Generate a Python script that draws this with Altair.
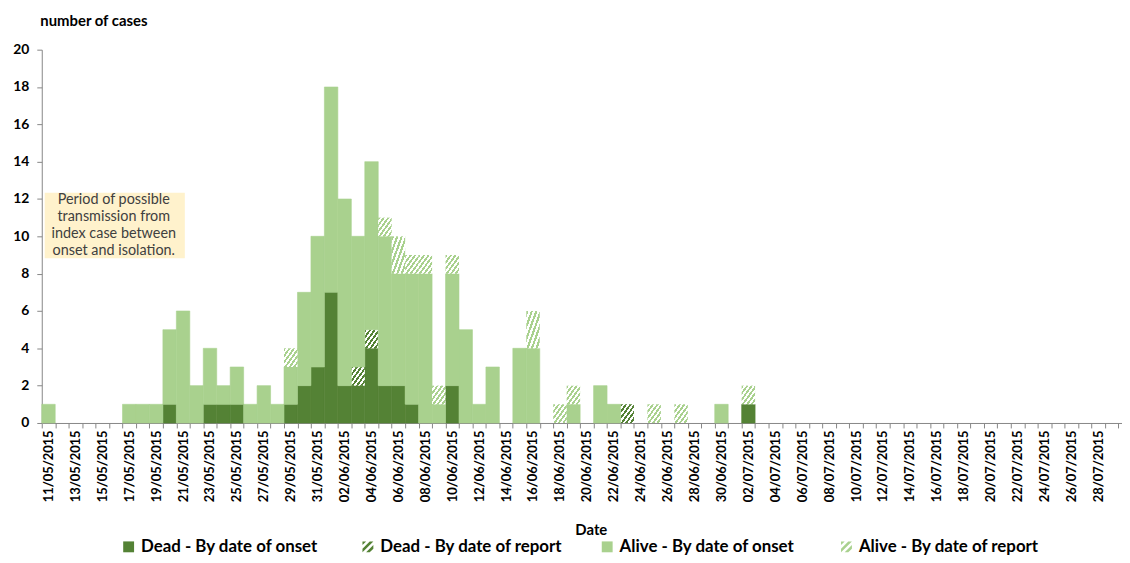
import altair as alt
import pandas as pd

# ---------------- data (day index 0 = 11/05/2015) ----------------
start_date = "2015-05-11"

dead_onset = [0,0,0,0,0,0,0,0,0,1, 0,0,1,1,1,0,0,0,1,2, 3,7,2,2,4,2,2,1,0,0,
              2,0,0,0,0,0,0,0,0,0, 0,0,0,0,0,0,0,0,0,0, 0,0,1]
dead_report = [0,0,0,0,0,0,0,0,0,0, 0,0,0,0,0,0,0,0,0,0, 0,0,0,1,1,0,0,0,0,0,
               0,0,0,0,0,0,0,0,0,0, 0,0,0,1,0,0,0,0,0,0, 0,0,0]
alive_onset = [1,0,0,0,0,0,1,1,1,4, 6,2,3,1,2,1,2,1,2,5, 7,11,10,7,9,8,6,7,8,1,
               6,5,1,3,0,4,4,0,0,1, 0,2,1,0,0,0,0,0,0,0, 1,0,0]
alive_report = [0,0,0,0,0,0,0,0,0,0, 0,0,0,0,0,0,0,0,1,0, 0,0,0,0,0,1,2,1,1,1,
                1,0,0,0,0,0,2,0,1,1, 0,0,0,0,0,1,0,1,0,0, 0,0,1]

categories = ["Dead - By date of onset", "Dead - By date of report",
              "Alive - By date of onset", "Alive - By date of report"]
series = [dead_onset, dead_report, alive_onset, alive_report]

annotation_lines = ["Period of possible", "transmission from",
                    "index case between", "onset and isolation."]

rows = []
for order, (cat, vals) in enumerate(zip(categories, series)):
    for day, v in enumerate(vals):
        rows.append({"day": day, "category": cat, "value": v, "order": order})
df = pd.DataFrame(rows)

# ---------------- style / layout ----------------
DARK = "#548235"
LIGHT = "#A9D18E"
FONT = "Lato"
PX_DAY = 13.556
W = 1088
H = 376
X_END = W / PX_DAY  # visible part of the date axis (ends just after 29/07)


def stripes(color, n=6):
    stops = []
    for i in range(n):
        a = i / n
        b = (i + 0.5) / n
        c = (i + 1) / n
        stops += [alt.GradientStop(offset=a, color=color),
                  alt.GradientStop(offset=b, color=color),
                  alt.GradientStop(offset=b, color="white"),
                  alt.GradientStop(offset=c, color="white")]
    return alt.LinearGradient(gradient="linear", stops=stops, x1=0, y1=0, x2=1, y2=1)


def clip_poly(poly, a, sign):
    out = []
    n = len(poly)
    for i in range(n):
        p, q = poly[i], poly[(i + 1) % n]
        fp = sign * (p[0] + p[1] - a)
        fq = sign * (q[0] + q[1] - a)
        if fp >= 0:
            out.append(p)
        if (fp >= 0) != (fq >= 0):
            t = fp / (fp - fq)
            out.append((p[0] + t * (q[0] - p[0]), p[1] + t * (q[1] - p[1])))
    return out


def striped_square_path():
    sq = [(-1, -1), (1, -1), (1, 1), (-1, 1)]
    parts = []
    for lo, hi in [(-2.0, -1.33), (-0.67, 0.0), (0.67, 1.33)]:
        poly = clip_poly(clip_poly(sq, lo, 1), hi, -1)
        if len(poly) >= 3:
            parts.append("M" + " L".join(f"{x:.3f},{y:.3f}" for x, y in poly) + " Z")
    return " ".join(parts)


STRIPE_PATH = striped_square_path()

x_scale = alt.Scale(domain=[0, X_END], nice=False, zero=False)
y_scale = alt.Scale(domain=[0, 20], nice=False)

label_expr = ("datum.value % 2 == 0 && datum.value < 80 ? "
              "timeFormat(datetime(2015, 4, 11 + datum.value), '%d/%m/%Y') : ''")

x_axis = alt.Axis(values=list(range(0, 81)), labelExpr=label_expr,
                  labelAngle=-90, labelOffset=PX_DAY / 2, labelOverlap=False,
                  labelFlush=False, labelBound=False, tickSize=5, labelPadding=2,
                  labelFont=FONT, labelFontSize=13, labelFontWeight="bold", labelColor="black",
                  domainColor="#868686", tickColor="#868686", grid=False,
                  title="Date", titleFont=FONT, titleFontSize=15, titleFontWeight="bold",
                  titleX=553, titleY=107, titleBaseline="middle",
                  titleAlign="center", titleColor="black")

y_axis = alt.Axis(values=list(range(0, 21, 2)), tickSize=5, labelPadding=8,
                  labelFont=FONT, labelFontSize=14, labelFontWeight="bold", labelColor="black",
                  domainColor="#868686", tickColor="#868686", grid=False,
                  title="number of cases", titleAngle=0, titleX=-2, titleY=-29,
                  titleAlign="left", titleBaseline="middle", titleFont=FONT,
                  titleFontSize=15, titleFontWeight="bold", titleColor="black")


def X(field):
    return alt.X(field, scale=x_scale, axis=x_axis)


def Y(field):
    return alt.Y(field, scale=y_scale, axis=y_axis)


base = (alt.Chart(df)
        .transform_stack(stack="value", groupby=["day"], as_=["y0", "y1"],
                         sort=[alt.SortField("order", order="ascending")])
        .transform_calculate(day_end="datum.day + 1"))

fills = [DARK, stripes(DARK), LIGHT, stripes(LIGHT)]
layers = []
for i, (cat, fill) in enumerate(zip(categories, fills)):
    if isinstance(fill, str):
        mk = dict(color=fill, stroke=fill, strokeWidth=0.6)
    else:
        mk = dict(color=fill, strokeWidth=0)
    layer = (base.transform_filter(f"datum.order == {i} && datum.value > 0")
             .mark_bar(**mk)
             .encode(x=X("day:Q"), x2="day_end:Q", y=Y("y0:Q"), y2="y1:Q"))
    layers.append(layer)

# annotation box (in data units of the two axes)
ann_box = pd.DataFrame({"x0": [0.22], "x1": [10.63], "ya": [8.83], "yb": [12.34]})
ann_txt = pd.DataFrame({"text": annotation_lines,
                        "xc": [5.35] * 4,
                        "yc": [11.97 - 0.925 * i for i in range(4)]})
ann_rect = alt.Chart(ann_box).mark_rect(color="#FFF2CC").encode(
    x=X("x0:Q"), x2="x1:Q", y=Y("ya:Q"), y2="yb:Q")
ann_text = alt.Chart(ann_txt).mark_text(font=FONT, fontSize=14.5, color="#404040",
                                        align="center", baseline="middle").encode(
    x=X("xc:Q"), y=Y("yc:Q"), text="text:N")

# legend carrier (clipped out of view)
leg_df = pd.DataFrame({"category": categories, "day": [1] * 4, "value": [-10] * 4})
leg = alt.Legend(title=None, orient="none", legendX=79, legendY=492,
                 direction="horizontal", columns=4, labelLimit=400)
legend_layer = alt.Chart(leg_df).mark_point(filled=True, size=120, opacity=1, clip=True).encode(
    x=X("day:Q"),
    y=Y("value:Q"),
    color=alt.Color("category:N",
                    scale=alt.Scale(domain=categories, range=[DARK, DARK, LIGHT, LIGHT]),
                    legend=leg),
    shape=alt.Shape("category:N",
                    scale=alt.Scale(domain=categories,
                                    range=["square", STRIPE_PATH, "square", STRIPE_PATH]),
                    legend=leg))

chart = (alt.layer(ann_rect, ann_text, *layers, legend_layer)
         .properties(width=W, height=H,
                     autosize=alt.AutoSizeParams(type="none"),
                     padding={"left": 34, "top": 40, "right": 0, "bottom": 131})
         .configure_view(stroke=None)
         .configure_legend(labelFont=FONT, labelFontSize=17, labelFontWeight="bold",
                           labelColor="black", symbolSize=120, symbolStrokeWidth=0,
                           symbolOpacity=1, labelOffset=4, gridAlign="all",
                           columnPadding=36, padding=0, labelLimit=400))

chart.save("out.html", embed_options={"renderer": "svg", "actions": False})
